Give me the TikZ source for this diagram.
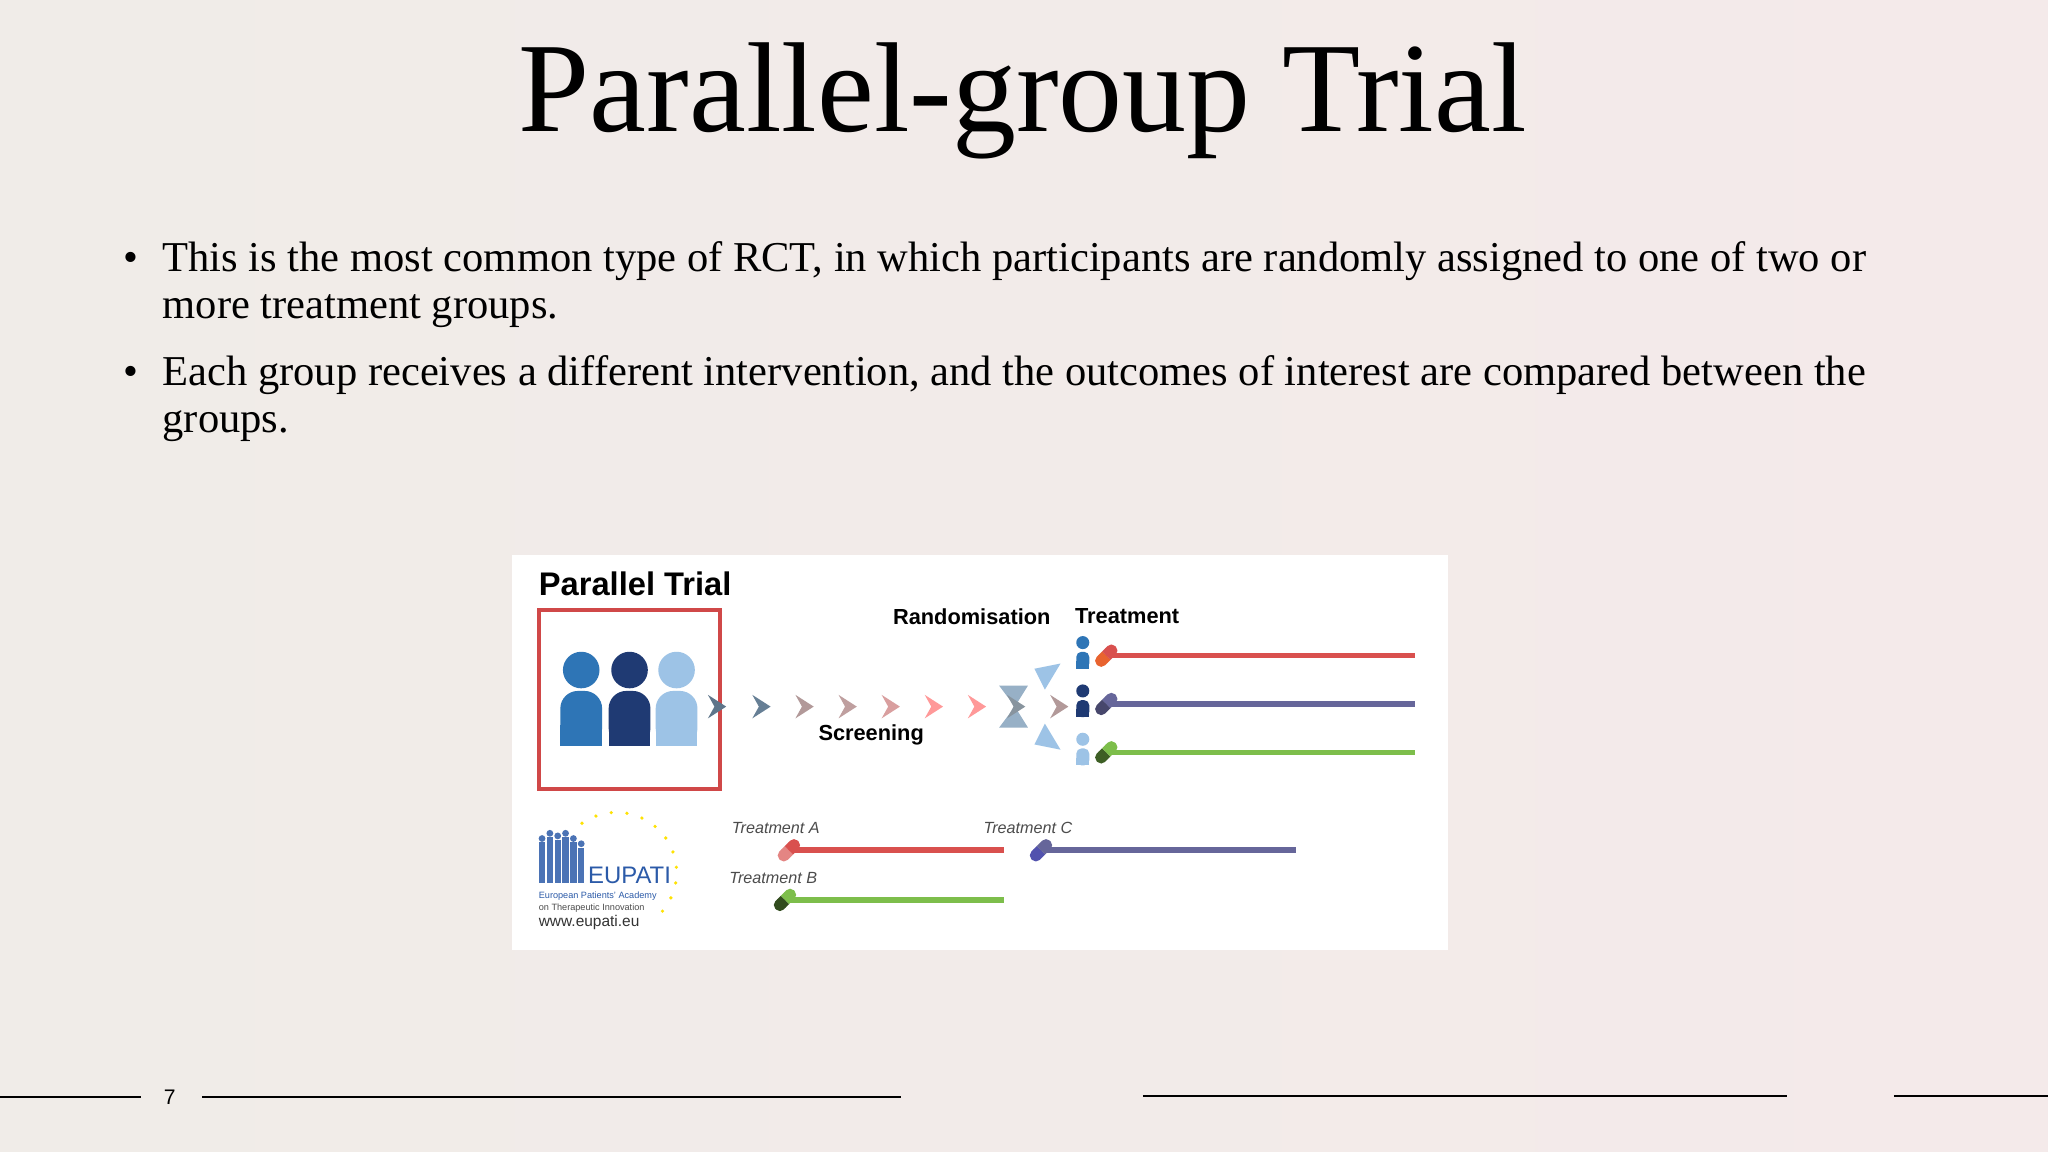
\documentclass[tikz,border=0pt]{standalone}
\usepackage{fontspec}
\setmainfont{Liberation Serif}
\setsansfont{Liberation Sans}
\definecolor{bgL}{HTML}{F0ECE8}
\definecolor{bgR}{HTML}{F4EAEA}
\definecolor{pA}{HTML}{2E75B6}
\definecolor{pB}{HTML}{1F3A73}
\definecolor{pC}{HTML}{9DC3E6}
\definecolor{tRed}{HTML}{D9504E}
\definecolor{tPur}{HTML}{66669A}
\definecolor{tGrn}{HTML}{7DBE4B}
\definecolor{boxRed}{HTML}{D04848}
\definecolor{eup}{HTML}{2B5AA8}
\tikzset{
  bul/.style={anchor=base west,font=\fontsize{12.1}{14}\selectfont,inner sep=0},
  lab/.style={font=\sffamily\bfseries\fontsize{6.2}{7}\selectfont,inner sep=0},
  tlab/.style={font=\sffamily\itshape\fontsize{4.6}{5}\selectfont,inner sep=0,text=black!70},
  foot/.style={line width=0.7pt,black}
}
\newcommand{\pill}[4]{% x y lightcolor darkcolor
  \begin{scope}[shift={(#1,#2)},rotate=45]
    \fill[#4,rounded corners=1.5pt] (-10,-4.5) rectangle (0,4.5);
    \fill[#3,rounded corners=1.5pt] (0,-4.5) rectangle (10,4.5);
    \fill[#4] (-4,-4.5) rectangle (0,4.5);
    \fill[#3] (0,-4.5) rectangle (4,4.5);
  \end{scope}}
\newcommand{\chev}[3]{% x y color
  \fill[#3] (#1-8,#2-9) -- (#1+6,#2) -- (#1-8,#2+9) -- (#1-3,#2) -- cycle;}
\begin{document}
\begin{tikzpicture}[x=0.0130612cm,y=-0.0130612cm]
\shade[left color=bgL,right color=bgR] (0,0) rectangle (1568,882);
\useasboundingbox (0,0) rectangle (1568,882);
\node[font=\fontsize{36.4}{40}\selectfont,inner sep=0] (title) at (783,77) {Parallel-group Trial};
\node[bul] (b1) at (124,208) {This is the most common type of RCT, in which participants are randomly assigned to one of two or};
\node[bul] (b1b) at (124,244) {more treatment groups.};
\node[bul] (b2) at (124,295) {Each group receives a different intervention, and the outcomes of interest are compared between the};
\node[bul] (b2b) at (124,331) {groups.};
\node[bul,anchor=base] (d1) at (100,208) {•};
\node[bul,anchor=base] (d2) at (100,295) {•};
% inner figure
\fill[white] (392,425) rectangle (1109,727);
\node[font=\sffamily\bfseries\fontsize{9.3}{10}\selectfont,anchor=west,inner sep=0] (pt) at (412,447) {Parallel Trial};
\draw[boxRed,line width=1.1pt] (413,467) rectangle (551,604);
\foreach \x/\c in {445/pA,482/pB,518/pC}{
  \fill[\c] (\x,513) circle (14);
  \fill[\c,rounded corners=5pt] (\x-16,529) rectangle (\x+16,571);
  \fill[\c] (\x-16,555) rectangle (\x+16,571);
}
\foreach \x/\c in {550/black!40!pC,584/black!35!pC,617/gray!60!pink,650/gray!50!pink,683/pink!90!red!70!gray,716/pink!80!red,749/pink!80!red}{
  \chev{\x}{541}{\c}
}
\node[lab] (scr) at (667,563) {Screening};
\node[lab] (rnd) at (744,472) {Randomisation};
\node[lab] (trt) at (863,472) {Treatment};
% randomisation arrows
\fill[pC!80!black!80] (765,525) -- (787,525) -- (777,541) -- cycle;
\fill[pC!80!black!80] (765,557) -- (787,557) -- (777,541) -- cycle;
\fill[pC] (792,512) -- (812,508) -- (800,528) -- cycle;
\fill[pC] (792,570) -- (812,574) -- (800,554) -- cycle;
\chev{779}{541}{gray!70!pC}
\chev{812}{541}{gray!60!pink}
% treatment arms
\foreach \y/\c/\l/\d in {502/pA/tRed/tRed!60!orange,539/pB/tPur/tPur!70!black,576/pC/tGrn/tGrn!50!black}{
  \fill[\c] (829,\y-10) circle (5);
  \fill[\c,rounded corners=1.5pt] (824,\y-3) rectangle (834,\y+10);
  \fill[\c] (824,\y+4) rectangle (834,\y+10);
  \draw[\l,line width=1.6pt] (850,\y) -- (1083,\y);
  \pill{847}{\y}{\l}{\d}
}
% legend
\node[tlab] (ta) at (594,634) {Treatment A};
\node[tlab] (tc) at (787,634) {Treatment C};
\node[tlab] (tb) at (592,672) {Treatment B};
\draw[tRed,line width=1.6pt] (606,651) -- (769,651);
\pill{604}{651}{tRed}{tRed!70!white}
\draw[tPur,line width=1.6pt] (799,651) -- (992,651);
\pill{797}{651}{tPur}{tPur!80!blue}
\draw[tGrn,line width=1.6pt] (603,689) -- (769,689);
\pill{601}{689}{tGrn}{tGrn!40!black}
% EUPATI logo
\foreach \a in {-40,-25,...,125}{
  \fill[yellow!85!orange] ({472+46*cos(\a)},{668-46*sin(\a)}) circle (1.4);
}
\foreach \x/\h in {415/34,421/38,427/36,433/38,439/34,445/30}{
  \fill[eup!85!white] (\x,676-\h) circle (2.6);
  \fill[eup!85!white] (\x-2.4,679-\h) rectangle (\x+2.4,676);
}
\node[font=\sffamily\fontsize{6.8}{7}\selectfont,text=eup,inner sep=0] (eu) at (482,670) {EUPATI};
\node[font=\sffamily\fontsize{2.6}{3}\selectfont,inner sep=0,anchor=west,text=eup] (e1) at (412,686) {European Patients' Academy};
\node[font=\sffamily\fontsize{2.6}{3}\selectfont,inner sep=0,anchor=west,text=black!70] (e2) at (412,695) {on Therapeutic Innovation};
\node[font=\sffamily\fontsize{4.4}{5}\selectfont,inner sep=0,anchor=west,text=black!80] (e3) at (412,706) {www.eupati.eu};
% footer
\node[font=\sffamily\fontsize{6}{6}\selectfont,inner sep=0] (pg) at (130,840) {7};
\draw[foot] (0,840) -- (108,840);
\draw[foot] (155,840) -- (690,840);
\draw[foot] (875,839) -- (1368,839);
\draw[foot] (1450,839) -- (1568,839);
\end{tikzpicture}
\end{document}
